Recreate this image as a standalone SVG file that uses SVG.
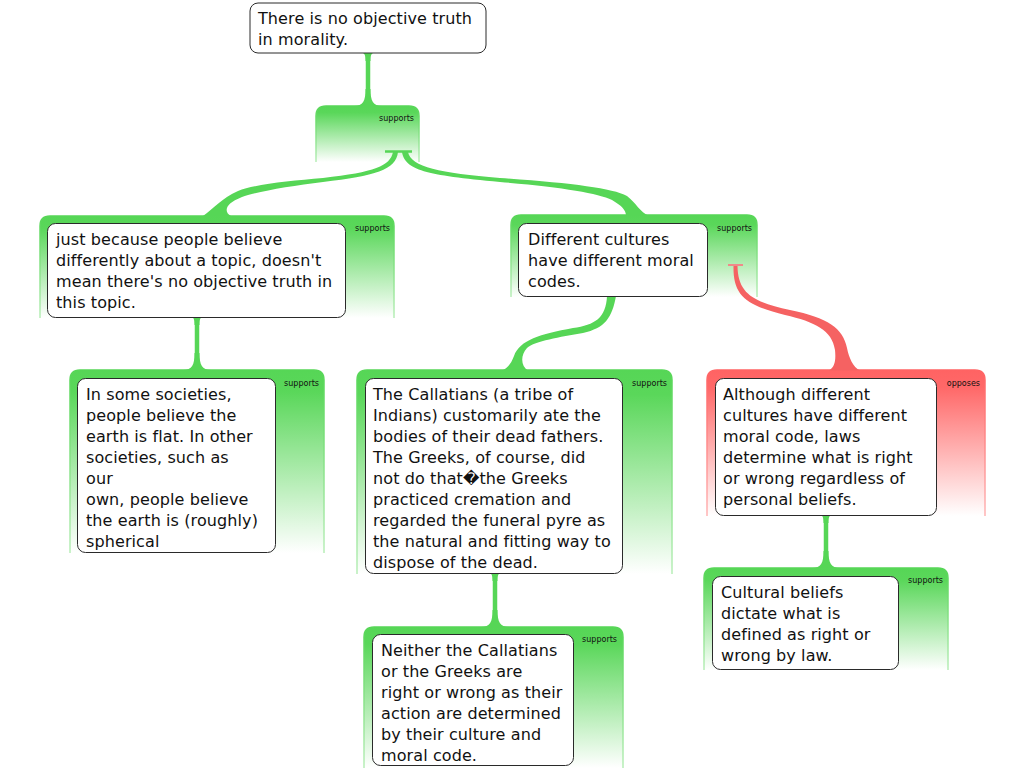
<svg xmlns="http://www.w3.org/2000/svg" xmlns:xlink="http://www.w3.org/1999/xlink" width="1024" height="768" viewBox="0 0 1024 768">
<defs>
<linearGradient id="gFill" x1="0" y1="0" x2="0" y2="1"><stop offset="0" stop-color="#56d656"/><stop offset="0.12" stop-color="#5ad75a"/><stop offset="1" stop-color="#ffffff"/></linearGradient>
<linearGradient id="gStroke" x1="0" y1="0" x2="0" y2="1"><stop offset="0" stop-color="#56d656"/><stop offset="1" stop-color="#b8eeb8"/></linearGradient>
<linearGradient id="rFill" x1="0" y1="0" x2="0" y2="1"><stop offset="0" stop-color="#ff6363"/><stop offset="0.12" stop-color="#ff6868"/><stop offset="1" stop-color="#ffffff"/></linearGradient>
<linearGradient id="rStroke" x1="0" y1="0" x2="0" y2="1"><stop offset="0" stop-color="#ff6363"/><stop offset="1" stop-color="#ffb4b4"/></linearGradient>
<path id="flareB" d="M -14,0 C -5,0 -2.5,-5 -2.5,-17 L 2.5,-17 C 2.5,-5 5,0 14,0 Z"/>
<path id="flareT" d="M -5,0 L 5,0 C 3,1 2.5,3 2.5,8 L -2.5,8 C -2.5,3 -3,1 -5,0 Z"/>
</defs>
<style>
.pg{fill:url(#gFill);stroke:url(#gStroke);stroke-width:1.5}
.pr{fill:url(#rFill);stroke:url(#rStroke);stroke-width:1.5}
.node{fill:#ffffff;stroke:#2a2a2a;stroke-width:1}
.t{font-family:"DejaVu Sans","Bitstream Vera Sans",sans-serif;font-size:16px;fill:#111;letter-spacing:0.1px}
.rl{font-family:"DejaVu Sans",sans-serif;font-size:8px;fill:#111;text-anchor:end}
.cg{fill:none;stroke:#56d656;stroke-width:4.5;stroke-linecap:butt}
.fg{fill:#56d656}
.fr{fill:#f56262}
</style>

<!-- relation panels -->
<g id="rel-top">
<path class="pg" d="M316,162 V116 Q316,106 326,106 H409 Q419,106 419,116 V162"/>
<text class="rl" x="414" y="121">supports</text>
</g>
<g id="rel-left">
<path class="pg" d="M40,318 V226 Q40,216 50,216 H384 Q394,216 394,226 V318"/>
<text class="rl" x="390" y="231">supports</text>
</g>
<g id="rel-right">
<path class="pg" d="M511,297 V225 Q511,215 521,215 H747 Q757,215 757,225 V297"/>
<text class="rl" x="752" y="231">supports</text>
</g>
<g id="rel-midleft">
<path class="pg" d="M70,553 V380 Q70,370 80,370 H314 Q324,370 324,380 V553"/>
<text class="rl" x="319" y="386">supports</text>
</g>
<g id="rel-mid">
<path class="pg" d="M357,574 V380 Q357,370 367,370 H662 Q672,370 672,380 V574"/>
<text class="rl" x="667" y="386">supports</text>
</g>
<g id="rel-red">
<path class="pr" d="M707,516 V380 Q707,370 717,370 H975 Q985,370 985,380 V516"/>
<text class="rl" x="980" y="386">opposes</text>
</g>
<g id="rel-botmid">
<path class="pg" d="M364,768 V637 Q364,627 374,627 H613 Q623,627 623,637 V768"/>
<text class="rl" x="617" y="642">supports</text>
</g>
<g id="rel-botright">
<path class="pg" d="M704,670 V578 Q704,568 714,568 H938 Q948,568 948,578 V670"/>
<text class="rl" x="943" y="583">supports</text>
</g>

<!-- connectors -->
<g id="connectors">
<line class="cg" x1="368" y1="53" x2="368" y2="95"/>
<use href="#flareT" class="fg" x="368" y="53"/>
<use href="#flareB" class="fg" x="368" y="106"/>

<line x1="385" y1="151.5" x2="412" y2="151.5" stroke="#56d656" stroke-width="2.5"/>
<path class="fg" d="M393,152 C390,166 375,172 323,178 C290,181 255,184 238,191 C222,198 214,208 203,216 L231,216 C224,212 224,204 242,197 C255,192 290,186 323,182 C375,176 396,170 398,152 Z"/>
<path class="fg" d="M402,152 C405,170 425,175 500,182 C560,187 598,193 612,200 C622,206 626,210 626,216 L649,216 C640,212 636,203 627,196 C612,188 570,183 500,178 C440,173 411,167 408,152 Z"/>

<line class="cg" x1="197" y1="317" x2="197" y2="360"/>
<use href="#flareT" class="fg" x="197" y="317"/>
<use href="#flareB" class="fg" x="197" y="370"/>

<path class="fg" d="M607,296 C606,318 595,325 573,328 C540,334 520,340 514,356 C511,364 507,369 501,370.5 L528,370.5 C521,366 520,356 527,348 C535,341 560,337 583,333 C605,328 612,318 616,296 Z"/>

<line x1="728" y1="265" x2="743" y2="265" stroke="#f08a8a" stroke-width="2"/>
<path class="fr" d="M733.5,266 C733,295 745,305 785,315 C815,322 832,330 835,350 C836,360 835,367 829,370.5 L860,370.5 C853,367 849,358 847,348 C843,328 828,318 790,310 C755,302 738,295 737.5,266 Z"/>

<line class="cg" x1="495" y1="573" x2="495" y2="617"/>
<use href="#flareT" class="fg" x="495" y="573"/>
<use href="#flareB" class="fg" x="495" y="627"/>

<line class="cg" x1="826" y1="515" x2="826" y2="558"/>
<use href="#flareT" class="fg" x="826" y="515"/>
<use href="#flareB" class="fg" x="826" y="568"/>
</g>

<!-- nodes -->
<g id="n-root">
<rect class="node" x="250" y="3" width="236" height="50" rx="8"/>
<text class="t" x="258" y="24">There is no objective truth</text>
<text class="t" x="258" y="45">in morality.</text>
</g>
<g id="n-because">
<rect class="node" x="47.5" y="223.5" width="298" height="94" rx="8"/>
<text class="t" x="56" y="245">just because people believe</text>
<text class="t" x="56" y="266">differently about a topic, doesn't</text>
<text class="t" x="56" y="287">mean there's no objective truth in</text>
<text class="t" x="56" y="308">this topic.</text>
</g>
<g id="n-cultures">
<rect class="node" x="518.5" y="223.5" width="189" height="73" rx="8"/>
<text class="t" x="528" y="245">Different cultures</text>
<text class="t" x="528" y="266">have different moral</text>
<text class="t" x="528" y="287">codes.</text>
</g>
<g id="n-societies">
<rect class="node" x="77.5" y="378.5" width="198" height="174" rx="8"/>
<text class="t" x="86" y="400">In some societies,</text>
<text class="t" x="86" y="421">people believe the</text>
<text class="t" x="86" y="442">earth is flat. In other</text>
<text class="t" x="86" y="463">societies, such as</text>
<text class="t" x="86" y="484">our</text>
<text class="t" x="86" y="505">own, people believe</text>
<text class="t" x="86" y="526">the earth is (roughly)</text>
<text class="t" x="86" y="547">spherical</text>
</g>
<g id="n-callatians">
<rect class="node" x="365.5" y="378.5" width="257" height="195" rx="8"/>
<text class="t" x="373" y="400">The Callatians (a tribe of</text>
<text class="t" x="373" y="421">Indians) customarily ate the</text>
<text class="t" x="373" y="442">bodies of their dead fathers.</text>
<text class="t" x="373" y="463">The Greeks, of course, did</text>
<text class="t" x="373" y="484">not do that&#xFFFD;the Greeks</text>
<text class="t" x="373" y="505">practiced cremation and</text>
<text class="t" x="373" y="526">regarded the funeral pyre as</text>
<text class="t" x="373" y="547">the natural and fitting way to</text>
<text class="t" x="373" y="568">dispose of the dead.</text>
</g>
<g id="n-laws">
<rect class="node" x="715.5" y="378.5" width="221" height="137" rx="8"/>
<text class="t" x="723" y="400">Although different</text>
<text class="t" x="723" y="421">cultures have different</text>
<text class="t" x="723" y="442">moral code, laws</text>
<text class="t" x="723" y="463">determine what is right</text>
<text class="t" x="723" y="484">or wrong regardless of</text>
<text class="t" x="723" y="505">personal beliefs.</text>
</g>
<g id="n-neither">
<rect class="node" x="372.5" y="634.5" width="201" height="131" rx="8"/>
<text class="t" x="381" y="656">Neither the Callatians</text>
<text class="t" x="381" y="677">or the Greeks are</text>
<text class="t" x="381" y="698">right or wrong as their</text>
<text class="t" x="381" y="719">action are determined</text>
<text class="t" x="381" y="740">by their culture and</text>
<text class="t" x="381" y="761">moral code.</text>
</g>
<g id="n-beliefs">
<rect class="node" x="712.5" y="576.5" width="186" height="93" rx="8"/>
<text class="t" x="721" y="598">Cultural beliefs</text>
<text class="t" x="721" y="619">dictate what is</text>
<text class="t" x="721" y="640">defined as right or</text>
<text class="t" x="721" y="661">wrong by law.</text>
</g>
</svg>
